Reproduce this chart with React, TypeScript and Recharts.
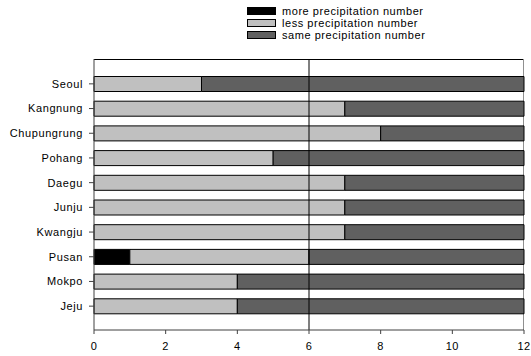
import React from "react";
import { BarChart, Bar, XAxis, YAxis, ReferenceLine, CartesianGrid } from "recharts";

const categories = ["Seoul", "Kangnung", "Chupungrung", "Pohang", "Daegu", "Junju", "Kwangju", "Pusan", "Mokpo", "Jeju"];
const moreValues = [0, 0, 0, 0, 0, 0, 0, 1, 0, 0];
const lessValues = [3, 7, 8, 5, 7, 7, 7, 5, 4, 4];
const sameValues = [9, 5, 4, 7, 5, 5, 5, 6, 8, 8];
const xTicks = [0, 2, 4, 6, 8, 10, 12];

const seriesNames = ["more precipitation number", "less precipitation number", "same precipitation number"];
const seriesColors = ["#000000", "#c0c0c0", "#606060"];

const data = categories.map((c, i) => ({
  name: c,
  more: moreValues[i],
  less: lessValues[i],
  same: sameValues[i],
}));

const font = "'Liberation Sans', Arial, sans-serif";

export default function App() {
  return (
    <div style={{ position: "absolute", left: 0, top: 0, width: 531, height: 356, background: "#fff", fontFamily: font }}>
      <div style={{ position: "absolute", left: 247, top: 5, fontSize: 11, color: "#000", lineHeight: "12px" }}>
        {seriesNames.map((n, i) => (
          <div key={n} style={{ display: "flex", alignItems: "center", height: 12 }}>
            <div style={{ width: 27, height: 6, background: seriesColors[i], border: "1px solid #000", marginRight: 6 }} />
            <span style={{ letterSpacing: 0.55 }}>{n}</span>
          </div>
        ))}
      </div>
      <BarChart
        width={531}
        height={356}
        data={data}
        layout="vertical"
        margin={{ top: 59, right: 7, bottom: 6, left: 0 }}
        barSize={15}
      >
        <CartesianGrid
          vertical={false}
          stroke="#000"
          horizontalCoordinatesGenerator={(props: any) => [props.offset.top + 0.5]}
        />
        <CartesianGrid
          horizontal={false}
          stroke="#909090"
          verticalCoordinatesGenerator={(props: any) => [props.offset.left + props.offset.width - 0.5]}
        />
        <XAxis
          type="number"
          dataKey="same"
          domain={[0, 12]}
          ticks={xTicks}
          interval={0}
          height={20}
          tickSize={4}
          tickMargin={8}
          axisLine={{ stroke: "#404040" }}
          tickLine={{ stroke: "#404040" }}
          tick={{ fontSize: 11, fill: "#000", fontFamily: font, letterSpacing: 0.5 }}
        />
        <YAxis
          type="category"
          dataKey="name"
          width={94}
          padding={{ top: 12.5, bottom: 11.5 }}
          tickSize={5}
          tickMargin={6}
          interval={0}
          axisLine={{ stroke: "#404040" }}
          tickLine={{ stroke: "#404040" }}
          tick={{ fontSize: 11, fill: "#000", fontFamily: font, letterSpacing: 0.6 }}
        />
        <Bar dataKey="more" stackId="a" fill={seriesColors[0]} stroke="#000" strokeWidth={1} isAnimationActive={false} />
        <Bar dataKey="less" stackId="a" fill={seriesColors[1]} stroke="#000" strokeWidth={1} isAnimationActive={false} />
        <Bar dataKey="same" stackId="a" fill={seriesColors[2]} stroke="#000" strokeWidth={1} isAnimationActive={false} />
        <ReferenceLine x={6} stroke="#000" strokeWidth={1} />
      </BarChart>
    </div>
  );
}
